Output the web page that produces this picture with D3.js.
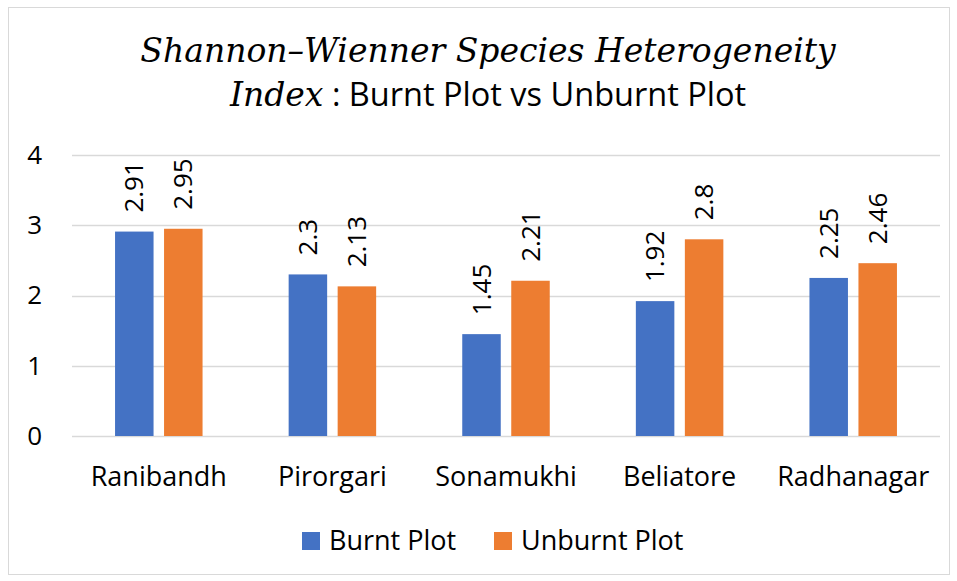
<!DOCTYPE html>
<html><head><meta charset="utf-8">
<script src="https://cdn.jsdelivr.net/npm/d3@7"></script>
<style>body{margin:0;background:#fff}svg{display:block}</style>
</head><body>
<svg id="c" width="957" height="581"></svg>
<script>
const categories = ["Ranibandh","Pirorgari","Sonamukhi","Beliatore","Radhanagar"];
const seriesNames = ["Burnt Plot","Unburnt Plot"];
const burnt = [2.91,2.3,1.45,1.92,2.25];
const unburnt = [2.95,2.13,2.21,2.8,2.46];
const yTicks = [0,1,2,3,4];
const colors = ["#4472C4","#ED7D31"];

const svg = d3.select("#c");
const font = "'Open Sans', sans-serif";
const fs = 27;
svg.append("rect").attr("x",8.5).attr("y",7.5).attr("width",941).attr("height",567)
  .attr("fill","#fff").attr("stroke","#d9d9d9");

const L=72,R=940,T=155,B=436;
const x = d3.scaleBand().domain(categories).range([L,R]);
const y = d3.scaleLinear().domain([0,4]).range([B,T]);

// gridlines
svg.append("g").selectAll("line").data(yTicks).join("line")
  .attr("x1",L).attr("x2",R).attr("y1",d=>Math.round(y(d))+0.5).attr("y2",d=>Math.round(y(d))+0.5)
  .attr("stroke","#d9d9d9").attr("stroke-width",1.5);

// y axis labels
const ya = svg.append("g").attr("transform",`translate(${L},0)`)
  .call(d3.axisLeft(y).tickValues(yTicks).tickSize(0).tickPadding(30).tickFormat(d3.format("d")));
ya.select(".domain").remove();
ya.selectAll("text").attr("font-family",font).attr("font-size",26).attr("fill","#000");

// x axis labels
const xa = svg.append("g").attr("transform",`translate(0,${B})`)
  .call(d3.axisBottom(x).tickSize(0).tickPadding(31));
xa.select(".domain").remove();
xa.selectAll("text").attr("font-family",font).attr("font-size",fs).attr("fill","#000");

const bw = 38.5, gap = 10.5;
const data = [burnt, unburnt];
data.forEach((vals,si)=>{
  const off = si===0 ? -gap/2-bw : gap/2;
  const g = svg.append("g");
  g.selectAll("rect").data(vals).join("rect")
    .attr("x",(d,i)=>x(categories[i])+x.bandwidth()/2+off)
    .attr("width",bw)
    .attr("y",d=>y(d)).attr("height",d=>B-y(d))
    .attr("fill",colors[si]);
  g.selectAll("text").data(vals).join("text")
    .attr("transform",(d,i)=>`translate(${x(categories[i])+x.bandwidth()/2+off+bw/2+9},${y(d)-19}) rotate(-90)`)
    .attr("font-family",font).attr("font-size",26).attr("fill","#000")
    .text(d=>d);
});

// title
svg.append("text").attr("x",488).attr("y",62).attr("text-anchor","middle")
  .attr("font-family","'DejaVu Serif', serif").attr("font-style","italic").attr("font-size",33)
  .attr("fill","#000").text("Shannon\u2013Wienner Species Heterogeneity");
const t2 = svg.append("text").attr("x",488).attr("y",106).attr("text-anchor","middle").attr("fill","#000");
t2.append("tspan").attr("font-family","'DejaVu Serif', serif").attr("font-style","italic").attr("font-size",33).text("Index");
t2.append("tspan").attr("font-family",font).attr("font-size",32.5).text(" : Burnt Plot vs Unburnt Plot");

// legend
const legX = [302,494];
seriesNames.forEach((n,i)=>{
  svg.append("rect").attr("x",legX[i]).attr("y",532).attr("width",18).attr("height",18).attr("fill",colors[i]);
  svg.append("text").attr("x",legX[i]+27).attr("y",550).attr("font-family",font).attr("font-size",fs)
    .attr("fill","#000").text(n);
});
</script>
</body></html>
